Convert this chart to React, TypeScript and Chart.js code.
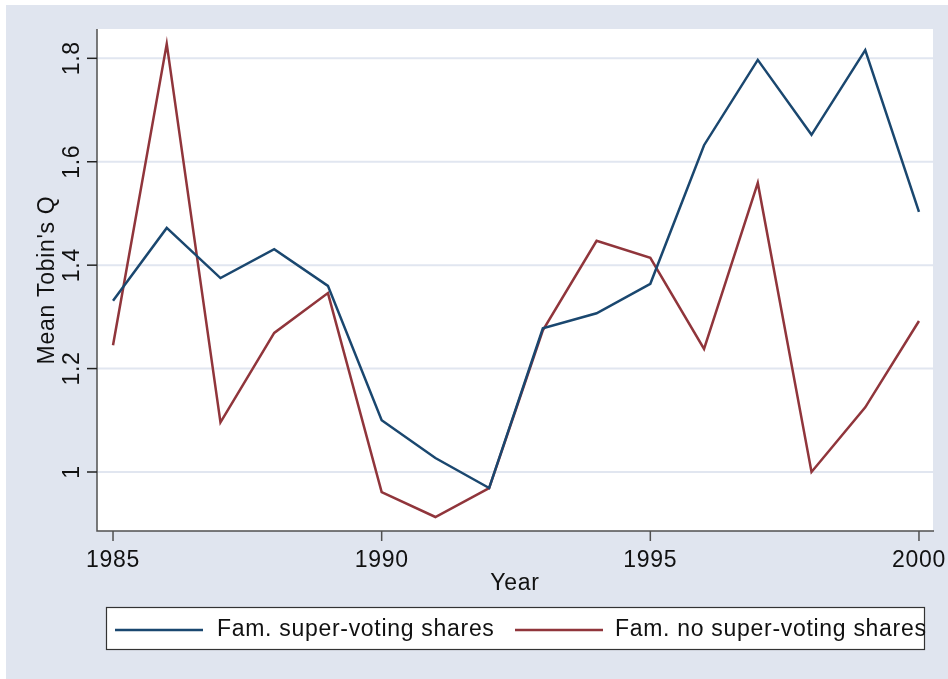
import React, { useEffect, useRef } from "react";
import { Chart, registerables } from "chart.js";

Chart.register(...registerables);

const years = [1985, 1986, 1987, 1988, 1989, 1990, 1991, 1992, 1993, 1994, 1995, 1996, 1997, 1998, 1999, 2000];
const superVoting = [1.331, 1.472, 1.375, 1.431, 1.36, 1.1, 1.027, 0.969, 1.278, 1.307, 1.364, 1.632, 1.797, 1.652, 1.816, 1.503];
const noSuperVoting = [1.245, 1.828, 1.096, 1.269, 1.346, 0.961, 0.913, 0.969, 1.274, 1.447, 1.414, 1.238, 1.559, 1.0, 1.125, 1.292];
const xTicks = [1985, 1990, 1995, 2000];
const yTicks = [1, 1.2, 1.4, 1.6, 1.8];
const yTickLabels = ["1", "1.2", "1.4", "1.6", "1.8"];
const seriesNames = ["Fam. super-voting shares", "Fam. no super-voting shares"];
const xTitle = "Year";
const yTitle = "Mean Tobin's Q";

const BLUE = "#1a476f";
const RED = "#90353b";
const BG = "#e0e5ef";
const GRID = "#e1e6f0";
const FONT = '23px "Liberation Sans", Arial, sans-serif';

const decor = {
  id: "stataDecor",
  beforeDraw(chart: any) {
    const { ctx, chartArea: a } = chart;
    ctx.save();
    ctx.fillStyle = "#ffffff";
    ctx.fillRect(0, 0, chart.width, chart.height);
    ctx.fillStyle = BG;
    ctx.fillRect(6, 5, chart.width - 6, chart.height - 5);
    ctx.fillStyle = "#ffffff";
    ctx.fillRect(a.left, a.top, a.right - a.left, a.bottom - a.top);
    ctx.restore();
  },
  beforeDatasetsDraw(chart: any) {
    const { ctx, chartArea: a, scales } = chart;
    ctx.save();
    ctx.strokeStyle = GRID;
    ctx.lineWidth = 2;
    yTicks.forEach((v) => {
      const y = scales.y.getPixelForValue(v);
      ctx.beginPath();
      ctx.moveTo(a.left, y);
      ctx.lineTo(a.right, y);
      ctx.stroke();
    });
    ctx.restore();
  },
  afterDatasetsDraw(chart: any) {
    const { ctx, chartArea: a, scales } = chart;
    ctx.save();
    ctx.strokeStyle = "#505050";
    ctx.lineWidth = 1.5;
    ctx.beginPath();
    ctx.moveTo(a.left, a.top);
    ctx.lineTo(a.left, a.bottom);
    ctx.lineTo(a.right + 1, a.bottom);
    ctx.stroke();

    ctx.fillStyle = "#111111";
    ctx.font = FONT;
    (ctx as any).letterSpacing = "0.7px";

    // x ticks
    ctx.textAlign = "center";
    ctx.textBaseline = "alphabetic";
    xTicks.forEach((v) => {
      const x = scales.x.getPixelForValue(v);
      ctx.beginPath();
      ctx.moveTo(x, a.bottom);
      ctx.lineTo(x, a.bottom + 10);
      ctx.stroke();
      ctx.fillText(String(v), x, 567);
    });

    // y ticks
    yTicks.forEach((v, i) => {
      const y = scales.y.getPixelForValue(v);
      ctx.strokeStyle = "#222222";
      ctx.beginPath();
      ctx.moveTo(a.left - 10, y);
      ctx.lineTo(a.left, y);
      ctx.stroke();
      ctx.save();
      ctx.translate(79, y);
      ctx.rotate(-Math.PI / 2);
      ctx.fillText(yTickLabels[i], 0, 0);
      ctx.restore();
    });

    // titles
    ctx.fillText(xTitle, (a.left + a.right) / 2, 590);
    ctx.save();
    ctx.translate(53.5, (a.top + a.bottom) / 2);
    ctx.rotate(-Math.PI / 2);
    ctx.fillText(yTitle, 0, 0);
    ctx.restore();

    // legend
    ctx.fillStyle = "#ffffff";
    ctx.fillRect(106.5, 607.5, 818, 42);
    ctx.strokeStyle = "#333333";
    ctx.lineWidth = 1.2;
    ctx.strokeRect(106.5, 607.5, 818, 42);
    ctx.lineWidth = 2.5;
    ctx.strokeStyle = BLUE;
    ctx.beginPath();
    ctx.moveTo(115, 630);
    ctx.lineTo(203, 630);
    ctx.stroke();
    ctx.strokeStyle = RED;
    ctx.beginPath();
    ctx.moveTo(515, 630);
    ctx.lineTo(603, 630);
    ctx.stroke();
    ctx.fillStyle = "#111111";
    ctx.textAlign = "left";
    ctx.fillText(seriesNames[0], 217, 636);
    ctx.fillText(seriesNames[1], 615, 636);
    ctx.restore();
  },
};

export default function App() {
  const ref = useRef<HTMLCanvasElement | null>(null);
  useEffect(() => {
    if (!ref.current) return;
    const chart = new Chart(ref.current, {
      type: "line",
      data: {
        datasets: [
          {
            label: seriesNames[0],
            data: years.map((x, i) => ({ x, y: superVoting[i] })),
            borderColor: BLUE,
            borderWidth: 2.5,
            pointRadius: 0,
            tension: 0,
            fill: false,
          },
          {
            label: seriesNames[1],
            data: years.map((x, i) => ({ x, y: noSuperVoting[i] })),
            borderColor: RED,
            borderWidth: 2.5,
            pointRadius: 0,
            tension: 0,
            fill: false,
          },
        ],
      },
      options: {
        animation: false,
        responsive: false,
        maintainAspectRatio: false,
        layout: { padding: { left: 97, top: 29, right: 15, bottom: 148 } },
        plugins: { legend: { display: false }, tooltip: { enabled: false } },
        scales: {
          x: { type: "linear", min: 1984.702, max: 2000.261, display: false },
          y: { type: "linear", min: 0.8859, max: 1.8567, display: false },
        },
      },
      plugins: [decor],
    });
    return () => chart.destroy();
  }, []);
  return (
    <div style={{ position: "fixed", left: 0, top: 0, width: 948, height: 679 }}>
      <canvas ref={ref} width={948} height={679} style={{ display: "block" }} />
    </div>
  );
}
